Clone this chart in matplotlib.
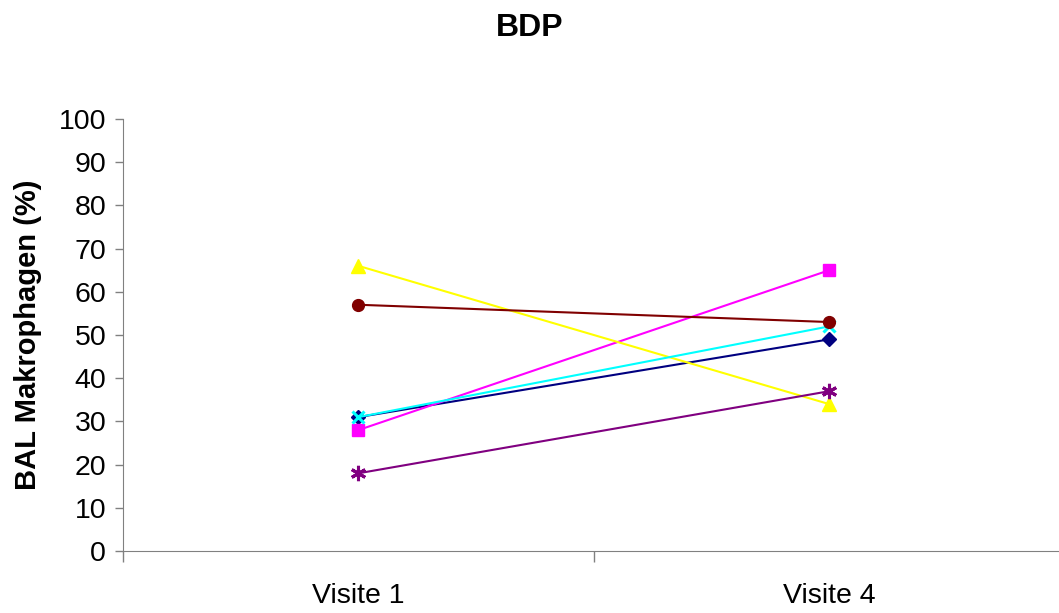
import matplotlib.pyplot as plt

# Excel style chart: BAL macrophages at two visits
categories = ['Visite 1', 'Visite 4']
series_values = [
    [31, 49],   # navy diamond
    [28, 65],   # magenta square
    [66, 34],   # yellow triangle
    [31, 52],   # cyan x
    [18, 37],   # purple star
    [57, 53],   # maroon circle
]
colors = ['#000080', '#FF00FF', '#FFFF00', '#00FFFF', '#800080', '#800000']
markers = ['D', 's', '^', 'x', (6, 2, 0), 'o']
marker_sizes = [7, 8.5, 9.5, 9, 11, 8.5]
y_ticks = list(range(0, 101, 10))

plt.rcParams['font.family'] = ['Liberation Sans', 'DejaVu Sans']

fig = plt.figure(figsize=(10.59, 6.13), dpi=100)
ax = fig.add_axes([0.116, 0.101, 0.8895, 0.705])

x = [0.5, 1.5]
for vals, c, m, ms in zip(series_values, colors, markers, marker_sizes):
    mew = 2.2 if m in ('x', (6, 2, 0)) else 1
    ax.plot(x, vals, color=c, marker=m, markersize=ms, linewidth=1.5,
            markeredgewidth=mew, markeredgecolor=c, markerfacecolor=c,
            clip_on=False)

ax.set_xlim(0, 2)
ax.set_ylim(0, 100)
ax.set_yticks(y_ticks)
ax.tick_params(axis='y', labelsize=20.5, length=6, width=1, color='#808080', pad=6)
ax.set_xticks([0, 1, 2])
ax.set_xticklabels([])
ax.set_xticks(x, minor=True)
ax.set_xticklabels(categories, minor=True)
ax.tick_params(axis='x', which='major', length=8, width=1, color='#808080')
ax.tick_params(axis='x', which='minor', length=0, labelsize=20.5, pad=23)

for side in ('top', 'right'):
    ax.spines[side].set_visible(False)
for side in ('left', 'bottom'):
    ax.spines[side].set_color('#808080')

ax.set_ylabel('BAL Makrophagen (%)', fontsize=21, fontweight='bold', labelpad=12)
fig.text(0.5, 0.955, 'BDP', fontsize=23, fontweight='bold', ha='center', va='center')

fig.savefig('out.png', dpi=100)
